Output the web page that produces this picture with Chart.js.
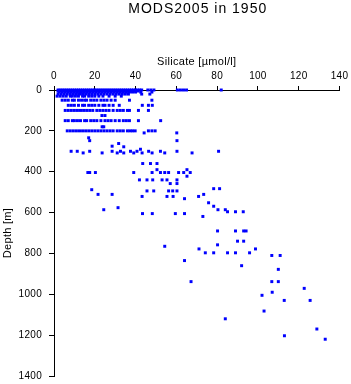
<!DOCTYPE html>
<html>
<head>
<meta charset="utf-8">
<script src="https://cdn.jsdelivr.net/npm/chart.js@4.4.1/dist/chart.umd.min.js"></script>
<style>
  html, body { margin: 0; padding: 0; background: #fff; }
  #wrap { width: 351px; height: 384px; }
</style>
</head>
<body>
<div id="wrap"><canvas id="chart"></canvas></div>
<script>
const chartTitle = 'MODS2005 in 1950';
const xTitle = 'Silicate [\u00b5mol/l]';
const yTitle = 'Depth [m]';
const xTicks = [0, 20, 40, 60, 80, 100, 120, 140];
const yTicks = [0, 200, 400, 600, 800, 1000, 1200, 1400];

// sample depths [m], one silicate list per depth
const depthLevels = [
    0, 5, 10, 20, 30, 50, 75, 100, 125, 150, 180, 200, 210, 234, 248,
    262, 275, 278, 290, 300, 308, 360, 390, 404, 422, 440, 458, 483, 488,
    494, 511, 521, 532, 552, 569, 576, 586, 596, 605, 619, 690, 740, 758,
    765, 778, 797, 810, 835, 860, 878, 938, 971, 990, 1005, 1030, 1082,
    1120, 1170, 1203, 1220
];
const silicateByLevel = [
    [2, 3, 4, 5, 6, 7, 8, 9, 10, 11, 12, 13, 14, 15, 16, 17, 18, 19, 20, 21, 22, 23, 24, 25, 26, 27, 28, 29, 30, 31, 32, 33, 34, 35, 36, 37, 38, 39, 40, 41, 42, 43, 46, 47.5, 49, 60.5, 62, 63.5, 65, 82],
    [2, 3.5, 5, 6.5, 8, 9.5, 11, 12.5, 14, 15.5, 17, 18.5, 20, 21.5, 23, 24.5, 26, 27.5, 29, 30.5, 32, 33.5, 35, 36.5, 38, 39.5, 41],
    [2.5, 4, 5.5, 7, 8.5, 10, 11.5, 13, 14.5, 16, 17.5, 19, 20.5, 22, 23.5, 25, 26.5, 28, 29.5, 31, 32.5, 34, 35.5, 37, 38.5, 40, 42.5, 48],
    [2, 3.5, 5, 6.5, 8, 9.5, 11, 12.5, 14, 15.5, 17, 18.5, 20, 21.5, 23, 24.5, 26, 27.5, 29, 30.5, 32, 33.5, 35, 36.5, 43, 47],
    [1.5, 3, 4.5, 6, 8, 9, 10.5, 12, 14, 15, 17, 18.5, 20, 22, 24, 27, 30, 33],
    [4, 5.5, 7, 9, 10, 12, 13.5, 15, 16, 18, 19.5, 21, 23, 24.5, 26, 28, 30, 37, 48],
    [7, 8.5, 10, 12, 14, 15, 17, 18.5, 20, 22, 24, 25, 27, 29, 32, 43.3, 46.3, 48.2],
    [5.5, 7, 8.5, 10, 11.5, 13, 14.5, 16, 17.5, 19, 21, 22.5, 24, 25.5, 27, 29, 31, 32.5, 34, 36, 37, 41.4, 46.3],
    [23.5, 25],
    [5.5, 7, 9, 10, 11.5, 13, 15, 16, 18, 19.5, 21, 23, 25, 26.5, 28, 30, 32, 34, 35.5, 37, 41.4, 52.3],
    [23.6, 24.4],
    [6.5, 8, 9.5, 11, 12.5, 14, 15.5, 17, 18.5, 20, 21.5, 23, 24.5, 26, 27.5, 29, 31, 32.5, 34, 36, 37.3, 38.5, 39.8, 46.3, 48, 49.6],
    [44.2, 60.2],
    [17],
    [17.5, 60.3],
    [31.7],
    [28.5],
    [34.2],
    [42.4],
    [8.4, 11.4, 17.5, 28.5, 32.6, 37.5, 40.7, 46.4, 52.2, 60.3, 80.7],
    [14.3, 23.6, 31, 34.2, 39.1, 43.2, 48.1, 54.3, 67.7],
    [43.5, 47.3, 50.5],
    [50.5, 65.2],
    [16.6, 17.5, 20.3, 39.1, 48.1, 52.2, 54.3, 56.2, 61.1, 63.6, 66.8],
    [65.2],
    [41.9, 45.6, 48.4, 53, 55.4, 60.3],
    [57, 60.3],
    [78.3, 81.2],
    [18.5],
    [45.6, 48.9, 56.2, 58.2, 60.3],
    [21.6, 28.5, 73.4],
    [43.2, 55.4, 58.4, 70.9],
    [64],
    [75.8],
    [78.3],
    [31.4],
    [24.4, 80.4, 84],
    [85.1, 89, 92.8],
    [43.4, 48.2, 59.5, 64],
    [73],
    [80.2, 89, 93, 94.2],
    [90, 93],
    [80.2],
    [54.3],
    [71.1, 98.8],
    [74.2, 78.3, 85.1, 89, 95.9],
    [106.8, 110.9],
    [64],
    [92],
    [110],
    [67.2, 106.8, 110],
    [122.7],
    [107],
    [102],
    [112.9, 125.6],
    [103],
    [84],
    [128.9],
    [113],
    [133]
];

const points = depthLevels.flatMap((d, i) => silicateByLevel[i].map(s => ({x: s, y: d})));

const plotTitle = {
    id: 'plotTitle',
    beforeDraw(chart) {
        chart.ctx.letterSpacing = '0.3px';
    },
    afterDraw(chart) {
        const {ctx, chartArea} = chart;
        ctx.save();
        ctx.letterSpacing = '1px';
        ctx.font = '14px "Liberation Sans", Arial, sans-serif';
        ctx.fillStyle = '#000';
        ctx.textAlign = 'center';
        ctx.textBaseline = 'middle';
        ctx.fillText(chartTitle, (chartArea.left + chartArea.right) / 2 + 1, 9);
        ctx.restore();
    }
};

new Chart(document.getElementById('chart'), {
    type: 'scatter',
    data: {
        datasets: [{
            data: points,
            pointStyle: 'rect',
            pointRadius: 2.1,
            pointHoverRadius: 2.1,
            borderWidth: 0,
            backgroundColor: '#0000ff',
            clip: false
        }]
    },
    options: {
        responsive: true,
        maintainAspectRatio: false,
        animation: false,
        layout: {padding: {left: 0, right: 11.5, top: 0, bottom: 8}},
        font: {family: '"Liberation Sans", Arial, sans-serif'},
        plugins: {legend: {display: false}, tooltip: {enabled: false}},
        scales: {
            x: {
                position: 'top',
                min: xTicks[0],
                max: xTicks[xTicks.length - 1],
                afterBuildTicks: s => { s.ticks = xTicks.map(v => ({value: v})); },
                afterFit: s => { s.height = 90; s.paddingLeft = 0; s.paddingRight = 0; },
                grid: {drawOnChartArea: false, tickLength: 4, tickColor: '#000'},
                border: {color: '#000', width: 1},
                ticks: {color: '#000', padding: 4, font: {size: 10}, maxRotation: 0, callback: v => String(v)},
                title: {display: true, text: xTitle, color: '#000', font: {size: 11}, padding: {top: 55, bottom: 0}}
            },
            y: {
                position: 'left',
                reverse: true,
                min: yTicks[0],
                max: yTicks[yTicks.length - 1],
                afterBuildTicks: s => { s.ticks = yTicks.map(v => ({value: v})); },
                afterFit: s => { s.width = 54; s.paddingTop = 0; s.paddingBottom = 0; },
                grid: {drawOnChartArea: false, tickLength: 5, tickColor: '#000'},
                border: {color: '#000', width: 1},
                ticks: {color: '#000', padding: 7, font: {size: 10}, callback: v => String(v)},
                title: {display: true, text: yTitle, color: '#000', font: {size: 11}, padding: {top: 1.5, bottom: 0}}
            }
        }
    },
    plugins: [plotTitle]
});
</script>
</body>
</html>
